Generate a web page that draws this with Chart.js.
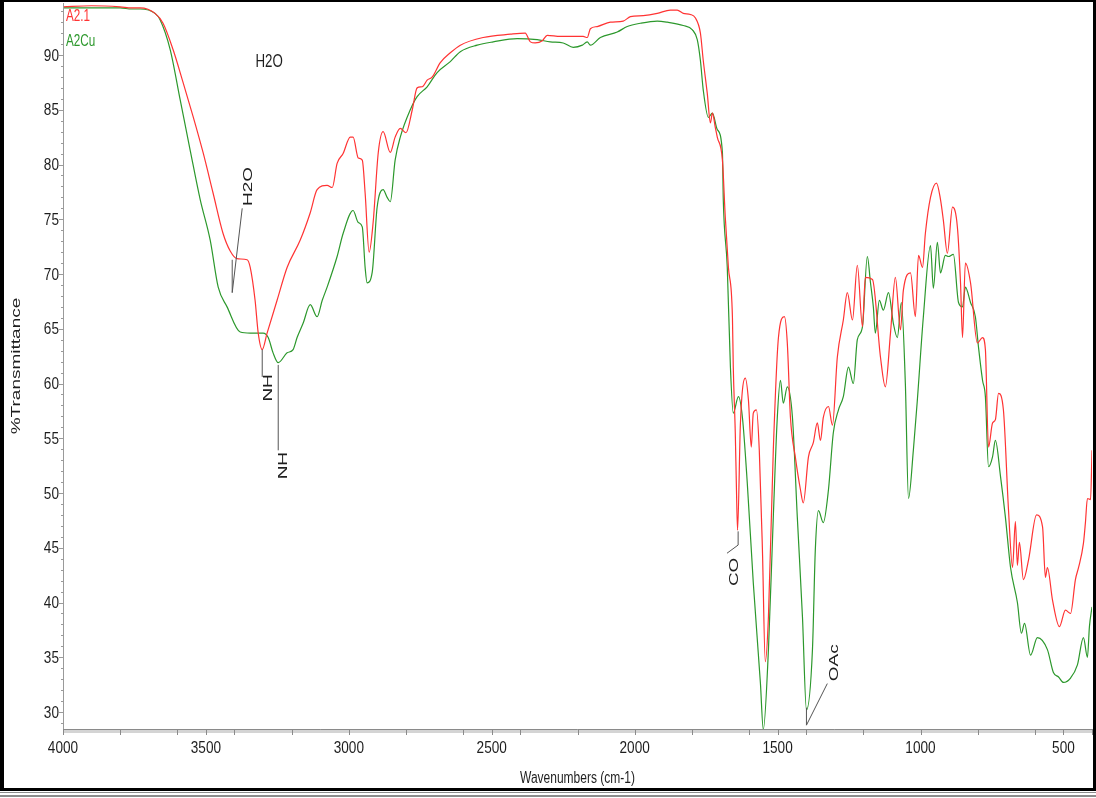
<!DOCTYPE html>
<html><head><meta charset="utf-8">
<script src="https://cdn.jsdelivr.net/npm/chart.js@4.4.1/dist/chart.umd.min.js"></script>
<style>html,body{margin:0;padding:0;background:#fff}#wrap{position:relative;width:1096px;height:798px}</style>
</head><body><div id="wrap"><canvas id="c" width="1096" height="798"></canvas></div>
<script>
const seriesNames = ['A2.1', 'A2Cu'];
const xTitle = 'Wavenumbers (cm-1)';
const yTitle = '%Transmittance';

const redWn = [4000,3900,3800,3760,3730,3678,3650,3615,3580,3545,
 3510,3475,3440,3415,3391,3356,3345,3328,3317,3303,
 3286,3251,3216,3170,3135,3111,3076,3058,3041,3020,
 2995,2985,2967,2953,2943,2929,2915,2897,2880,2855,
 2838,2820,2800,2778,2761,2743,2726,2708,2680,2645,
 2610,2530,2435,2383,2365,2348,2323,2306,2260,2180,
 2166,2155,2131,2085,2040,2015,1970,1921,1875,1851,
 1830,1805,1788,1770,1760,1746,1735,1728,1718,1711,
 1693,1683,1672,1658,1655,1648,1644,1640,1630,1613,
 1602,1592,1585,1574,1564,1553,1543,1532,1515,1497,
 1476,1466,1455,1438,1420,1410,1392,1375,1361,1350,
 1340,1322,1308,1291,1270,1256,1238,1221,1203,1193,
 1168,1140,1123,1105,1088,1070,1060,1035,1018,1007,
 993,983,965,944,930,920,906,888,871,860,
 853,843,825,801,783,773,762,748,738,727,
 710,692,678,668,661,654,640,622,594,573,
 563,556,538,514,493,475,458,447,430,423,
 416,405,400];
const redT = [94.4,94.5,94.4,94.3,94.3,93.8,92.9,90.5,87.5,84.4,
 81.1,77.4,73.7,72.1,71.4,71.3,70.6,67.6,64.6,63.1,
 64.6,67.6,70.6,73.1,75.6,77.7,78.1,77.9,80.1,81.0,
 82.5,82.5,80.6,80.4,77.4,72.0,74.7,81.1,83.0,81.1,
 82.5,83.3,82.9,85.0,87.0,87.1,87.7,88.0,89.3,90.2,
 90.9,91.6,91.9,92.0,91.2,91.1,91.3,91.8,91.7,91.7,
 91.6,92.4,92.6,93.0,93.1,93.5,93.6,93.8,94.1,94.1,
 93.8,93.7,93.4,92.0,89.5,86.5,83.8,84.7,83.4,82.5,
 80.4,75.2,70.6,66.1,61.5,55.5,50.5,46.6,56.4,60.5,
 58.5,54.2,57.3,57.6,53.9,44.8,34.6,38.7,53.9,64.2,
 66.1,63.7,56.9,53.3,50.3,49.1,53.3,54.6,56.4,54.8,
 56.9,57.9,56.2,62.4,65.8,68.3,65.8,70.8,65.2,69.7,
 69.5,62.4,59.7,64.6,69.7,64.9,68.5,70.1,66.1,71.7,
 70.6,73.7,77.0,78.3,76.8,74.9,71.9,76.1,74.3,69.2,
 64.2,71.0,69.2,63.7,64.2,63.1,54.2,56.4,56.7,59.1,
 57.6,48.4,43.2,47.4,43.4,45.5,42.1,43.9,48.0,46.9,
 42.3,43.2,40.2,37.8,39.3,39.0,42.1,43.2,45.4,47.3,
 49.5,49.4,53.9];

const greenWn = [4000,3900,3800,3760,3730,3678,3660,3625,3590,3555,
 3520,3485,3457,3426,3380,3345,3300,3282,3265,3247,
 3216,3195,3181,3160,3135,3111,3093,3076,3041,3020,
 2985,2967,2953,2943,2936,2918,2901,2880,2866,2855,
 2838,2820,2785,2761,2726,2691,2645,2610,2551,2495,
 2411,2341,2295,2250,2215,2183,2166,2155,2120,2061,
 2026,1980,1921,1886,1830,1798,1781,1770,1760,1742,
 1728,1711,1693,1690,1676,1665,1655,1637,1623,1606,
 1585,1560,1550,1532,1515,1501,1490,1480,1466,1448,
 1431,1413,1399,1378,1368,1357,1340,1322,1305,1287,
 1270,1252,1235,1221,1203,1186,1175,1165,1158,1144,
 1130,1112,1095,1081,1067,1053,1042,1025,1011,990,
 965,955,941,930,913,902,885,867,853,843,
 825,808,797,783,773,762,748,738,720,703,
 685,661,647,636,615,591,556,535,517,500,
 475,451,430,416,409,400];
const greenT = [94.3,94.3,94.3,94.2,94.2,93.8,93.2,90.5,85.9,81.3,
 76.8,73.1,68.8,67.0,64.7,64.6,64.6,64.2,62.8,61.9,
 62.8,63.1,64.2,65.5,67.2,66.1,67.6,68.8,71.6,73.7,
 75.8,74.7,74.3,70.6,69.2,70.2,76.1,77.7,77.0,76.6,
 80.4,82.5,85.0,86.2,87.1,88.4,89.4,90.3,90.9,91.2,
 91.5,91.4,91.2,91.1,90.7,90.9,91.2,90.9,91.6,92.1,
 92.6,92.9,93.1,93.0,92.7,92.3,91.4,89.5,86.8,84.3,
 84.7,83.2,81.1,76.8,70.6,61.5,57.3,58.8,56.9,50.9,
 41.8,32.6,28.4,35.7,47.8,56.9,60.3,58.2,59.7,56.9,
 47.8,38.7,30.2,35.7,44.8,48.4,47.3,50.3,55.5,57.6,
 58.8,61.5,60.0,64.0,65.2,71.6,69.2,67.0,64.6,67.6,
 66.7,68.3,65.5,64.2,67.4,60.0,49.5,53.9,58.5,66.1,
 72.6,68.7,72.9,70.1,71.7,71.6,71.8,67.4,67.0,68.8,
 67.4,66.1,63.3,60.3,58.8,52.4,53.3,54.8,51.5,47.8,
 43.2,40.0,37.2,38.1,35.2,36.8,35.7,33.6,33.2,32.7,
 33.1,34.3,36.8,35.0,37.8,39.6];

const xTickValues = [4000,3500,3000,2500,2000,1500,1000,500];
const yTickValues = [30,35,40,45,50,55,60,65,70,75,80,85,90];

// peak annotations: label text, anchor (wavenumber, %T), leader line points
const peakLabels = ['H2O','NH','NH','CO','OAc'];
const peakAnchors = [[3352,78.0],[3282,59.6],[3230,52.5],[1651,42.8],[1301,34.5]];
const peakLeaders = [
  [[3373,76.0],[3408,68.3]],
  [[3303,63.1],[3303,60.6]],
  [[3247,61.7],[3247,53.9]],
  [[1638,46.5],[1638,45.25],[1677,44.5]],
  [[1399,30.4],[1399,28.8],[1326,32.6]]
];
const peakLeaderExtra = [[[3408,71.3],[3408,68.3]],null,null,null,null];
const topNote = {text:'H2O', wn:3279, t:89.4};

const RED = '#ff3333', GREEN = '#2c982c';
const FONT = '"Liberation Sans", Arial, sans-serif';

function toXY(wn, t){ return wn.map((w,i)=>({x:w, y:t[i]})); }

function sText(ctx, txt, x, y, size, sx, rot, color, align){
  ctx.save();
  ctx.translate(x, y);
  ctx.scale(sx, 1);
  if (rot) ctx.rotate(-Math.PI/2);
  ctx.font = size + 'px ' + FONT;
  ctx.fillStyle = color;
  ctx.textAlign = align || 'center';
  ctx.textBaseline = 'middle';
  ctx.fillText(txt, 0, 0);
  ctx.restore();
}

const decor = {
  id: 'decor',
  beforeDraw(chart){
    const ctx = chart.ctx;
    ctx.save();
    ctx.fillStyle = '#fff';
    ctx.fillRect(0,0,chart.width,chart.height);
    ctx.restore();
  },
  afterDraw(chart){
    const ctx = chart.ctx, xs = chart.scales.x, ys = chart.scales.y, a = chart.chartArea;
    ctx.save();
    // y axis line with minor ticks
    ctx.strokeStyle = '#9a9a9a'; ctx.lineWidth = 1;
    ctx.beginPath(); ctx.moveTo(a.left+0.5, a.top); ctx.lineTo(a.left+0.5, a.bottom); ctx.stroke();
    for (let v = 29; v <= 94; v++){
      const y = Math.round(ys.getPixelForValue(v)) + 0.5;
      const len = (v % 5 === 0) ? 4 : 2;
      ctx.beginPath(); ctx.moveTo(a.left - len, y); ctx.lineTo(a.left, y); ctx.stroke();
    }
    // x axis band
    ctx.fillStyle = '#d4d4d4';
    ctx.fillRect(a.left, a.bottom, a.right - a.left, 4);
    ctx.strokeStyle = '#8a8a8a';
    ctx.beginPath(); ctx.moveTo(a.left, a.bottom+0.5); ctx.lineTo(a.right, a.bottom+0.5); ctx.stroke();
    for (let v = 4000; v >= 400; v -= 200){
      const x = Math.round(xs.getPixelForValue(v)) + 0.5;
      ctx.beginPath(); ctx.moveTo(x, a.bottom); ctx.lineTo(x, a.bottom + 6); ctx.stroke();
    }
    for (const t of xs.ticks){
      const x = Math.round(xs.getPixelForValue(t.value)) + 0.5;
      ctx.beginPath(); ctx.moveTo(x, a.bottom); ctx.lineTo(x, a.bottom + 6); ctx.stroke();
    }
    // tick labels from the library's scales
    for (const t of ys.ticks){
      sText(ctx, String(t.value), a.left - 4, ys.getPixelForValue(t.value) + 1, 17, 0.8, false, '#1e1e1e', 'right');
    }
    for (const t of xs.ticks){
      sText(ctx, String(t.value), xs.getPixelForValue(t.value), a.bottom + 19, 17, 0.8, false, '#1e1e1e', 'center');
    }
    // axis titles
    sText(ctx, xTitle, (a.left + a.right)/2, 779, 16, 0.75, false, '#1e1e1e', 'center');
    sText(ctx, yTitle, 16, (a.top + a.bottom)/2, 19, 0.72, true, '#1e1e1e', 'center');
    // legend
    sText(ctx, seriesNames[0], a.left + 3, 17, 16, 0.73, false, RED, 'left');
    sText(ctx, seriesNames[1], a.left + 3, 42, 16, 0.73, false, GREEN, 'left');
    // note
    sText(ctx, topNote.text, xs.getPixelForValue(topNote.wn), ys.getPixelForValue(topNote.t), 19, 0.7, false, '#1e1e1e', 'center');
    // peak labels
    ctx.strokeStyle = '#555'; ctx.lineWidth = 1;
    peakLabels.forEach((lab, i) => {
      const pts = [peakLeaders[i]];
      if (peakLeaderExtra[i]) pts.push(peakLeaderExtra[i]);
      for (const seg of pts){
        ctx.beginPath();
        seg.forEach((p, k) => {
          const x = xs.getPixelForValue(p[0]), y = ys.getPixelForValue(p[1]);
          if (k === 0) ctx.moveTo(x, y); else ctx.lineTo(x, y);
        });
        ctx.stroke();
      }
      const an = peakAnchors[i];
      sText(ctx, lab, xs.getPixelForValue(an[0]), ys.getPixelForValue(an[1]), 19, 0.72, true, '#1e1e1e', 'center');
    });
    // frame
    ctx.fillStyle = '#000';
    ctx.fillRect(0, 0, chart.width, 2);
    ctx.fillRect(0, 0, 4, 791);
    ctx.fillRect(1093, 0, 3, 791);
    ctx.fillRect(0, 788, chart.width, 3);
    ctx.fillStyle = '#8c8c8c';
    ctx.fillRect(0, 792, chart.width, 1);
    ctx.fillRect(0, 795, chart.width, 2);
    ctx.restore();
  }
};

new Chart(document.getElementById('c'), {
  type: 'line',
  data: {
    datasets: [
      { label: seriesNames[0], data: toXY(redWn, redT), borderColor: RED, borderWidth: 1.2, pointRadius: 0, fill: false, cubicInterpolationMode: 'monotone' },
      { label: seriesNames[1], data: toXY(greenWn, greenT), borderColor: GREEN, borderWidth: 1.2, pointRadius: 0, fill: false, cubicInterpolationMode: 'monotone' }
    ]
  },
  options: {
    responsive: false, animation: false, events: [],
    layout: { padding: { left: 0, top: 3, right: 4, bottom: 0 } },
    plugins: { legend: { display: false }, tooltip: { enabled: false } },
    scales: {
      x: {
        type: 'linear', reverse: true, min: 400, max: 4000,
        grid: { display: false }, border: { display: false },
        ticks: { display: false },
        afterBuildTicks: ax => { ax.ticks = xTickValues.map(v => ({ value: v })); },
        afterFit: sc => { sc.height = 69; }
      },
      y: {
        type: 'linear', min: 28.45, max: 94.75,
        grid: { display: false }, border: { display: false },
        ticks: { display: false },
        afterBuildTicks: ax => { ax.ticks = yTickValues.map(v => ({ value: v })); },
        afterFit: sc => { sc.width = 63; }
      }
    }
  },
  plugins: [decor]
});
</script>
</body></html>
